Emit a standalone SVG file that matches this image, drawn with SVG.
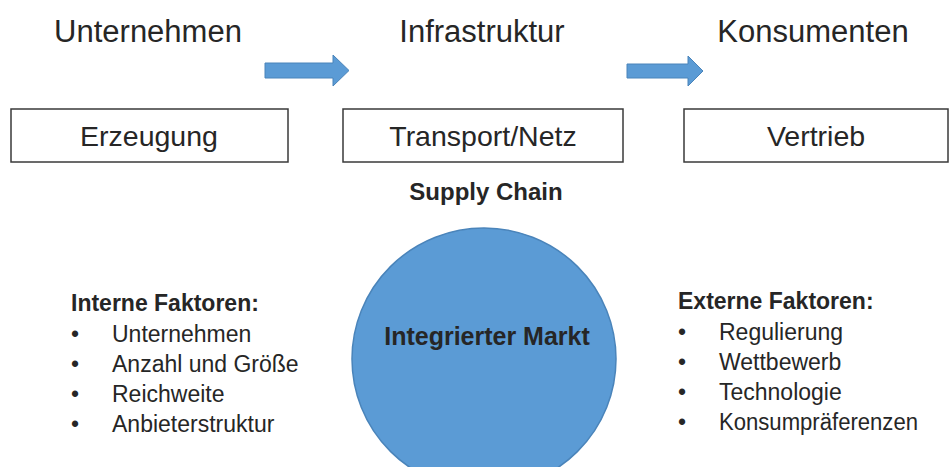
<svg xmlns="http://www.w3.org/2000/svg" width="950" height="467" viewBox="0 0 950 467">
<style>
text{font-family:"Liberation Sans",Arial,sans-serif;fill:#262626}
.h{font-size:31px;text-anchor:middle}
.b{font-size:28.5px;text-anchor:middle}
.box{fill:#fff;stroke:#3a3a3a;stroke-width:1.5}
.arr{fill:#5B9BD5;stroke:#4A84BA;stroke-width:1}
.bold{font-weight:bold}
.li{font-size:23px}
</style>
<rect width="950" height="467" fill="#fff"/>
<g id="head-unternehmen"><text class="h" x="148" y="42">Unternehmen</text></g>
<g id="head-infrastruktur"><text class="h" x="482" y="42">Infrastruktur</text></g>
<g id="head-konsumenten"><text class="h" x="813" y="42">Konsumenten</text></g>
<g id="connectors">
<polygon class="arr" points="265,63 333,63 333,55 349,70.5 333,86 333,78 265,78"/>
<polygon class="arr" points="627,64 688,64 688,56 703,71 688,86 688,78 627,78"/>
</g>
<g id="erzeugung"><rect class="box" x="11" y="109" width="277" height="53"/><text class="b" x="149" y="146">Erzeugung</text></g>
<g id="transport"><rect class="box" x="343" y="109" width="280" height="53"/><text class="b" x="483" y="146">Transport/Netz</text></g>
<g id="vertrieb"><rect class="box" x="684" y="109" width="264" height="53"/><text class="b" x="816" y="146">Vertrieb</text></g>
<g id="supply-chain"><text class="bold" x="486" y="200" font-size="24" text-anchor="middle">Supply Chain</text></g>
<g id="markt"><ellipse cx="484" cy="359" rx="132" ry="131" fill="#5B9BD5" stroke="#4A84BA" stroke-width="1.5"/><text class="bold" x="487" y="345" font-size="25" text-anchor="middle">Integrierter Markt</text></g>
<g id="interne">
<text class="bold li" x="71" y="311">Interne Faktoren:</text>
<text class="li" x="71" y="342">•</text><text class="li" x="112" y="342">Unternehmen</text>
<text class="li" x="71" y="372">•</text><text class="li" x="112" y="372">Anzahl und Größe</text>
<text class="li" x="71" y="402">•</text><text class="li" x="112" y="402">Reichweite</text>
<text class="li" x="71" y="432">•</text><text class="li" x="112" y="432">Anbieterstruktur</text>
</g>
<g id="externe">
<text class="bold li" x="678" y="309">Externe Faktoren:</text>
<text class="li" x="678" y="340">•</text><text class="li" x="719" y="340">Regulierung</text>
<text class="li" x="678" y="370">•</text><text class="li" x="719" y="370">Wettbewerb</text>
<text class="li" x="678" y="400">•</text><text class="li" x="719" y="400">Technologie</text>
<text class="li" x="678" y="430">•</text><text class="li" x="719" y="430" textLength="199" lengthAdjust="spacingAndGlyphs">Konsumpräferenzen</text>
</g>
</svg>
